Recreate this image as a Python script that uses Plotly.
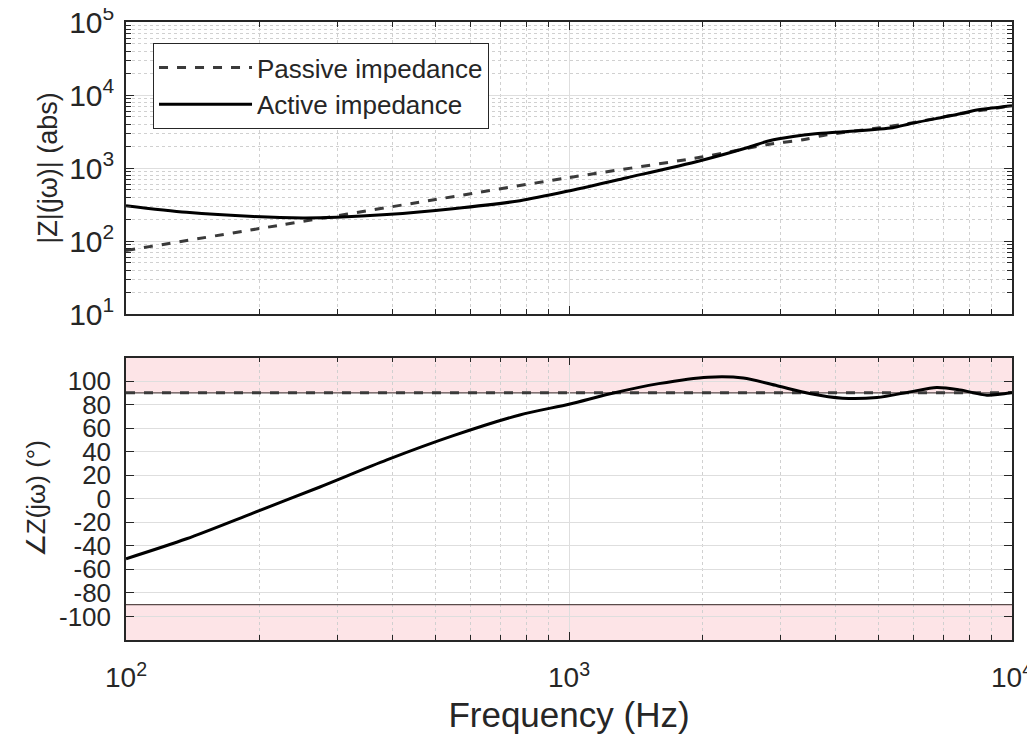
import plotly.graph_objects as go

# ---------------- data ----------------
freq_passive_mag = [100, 200, 500, 1000, 1977, 2880, 3374, 3820, 5035, 5794, 7634, 10000]
mag_passive = [74, 148, 370, 740, 1400, 2148, 2440, 2850, 3556, 4036, 5530, 7110]

freq_active_mag = [100, 137, 194, 251, 299, 388, 547, 775, 1005, 1352, 1977, 2523,
                   2833, 3206, 3600, 4153, 5380, 5886, 7634, 8170, 10000]
mag_active = [305, 247, 216, 207, 211, 230, 277, 357, 489, 736, 1260, 1897,
              2360, 2700, 2945, 3140, 3560, 4040, 5530, 6090, 7110]

freq_passive_phase = [100, 1000, 10000]
phase_passive = [90, 90, 90]

freq_active_phase = [100, 137, 194, 274, 388, 548, 774, 1005, 1232, 1594, 2061, 2474,
                     2951, 3492, 4145, 4958, 5889, 6763, 7640, 8780, 10000]
phase_active = [-51, -34, -12, 10, 33, 53.6, 71.2, 80.5, 89, 97.8, 103.3, 102.6,
                96, 89.4, 85.4, 86, 90.8, 94.6, 92.5, 88, 90.3]

phase_limit = 90
mag_ticks = [10, 100, 1000, 10000, 100000]
mag_ticktext = ["10<sup>1</sup>", "10<sup>2</sup>", "10<sup>3</sup>", "10<sup>4</sup>", "10<sup>5</sup>"]
freq_ticks = [100, 1000, 10000]
freq_ticktext = ["10<sup>2</sup>", "10<sup>3</sup>", "10<sup>4</sup>"]
phase_ticks = [100, 80, 60, 40, 20, 0, -20, -40, -60, -80, -100]
phase_ticktext = ["100", "80", "60", "40", "20", "0", "-20", "-40", "-60", "-80", "-100"]

x_minor = [200, 300, 400, 500, 600, 700, 800, 900,
           2000, 3000, 4000, 5000, 6000, 7000, 8000, 9000]
y_minor = [m * d for d in (10, 100, 1000, 10000) for m in range(2, 10)]

# ---------------- figure ----------------
FONT = "Liberation Sans, Arial, sans-serif"
TXT = "#262626"
AX = "#262626"
GRID = "#dedede"
MINOR_GRID = "#d0d0d0"

fig = go.Figure()

fig.add_trace(go.Scatter(x=freq_passive_mag, y=mag_passive, mode="lines",
                         name="Passive impedance",
                         line=dict(color="#3a3a3a", width=3, dash="dash", shape="spline", smoothing=0.8),
                         xaxis="x", yaxis="y"))
fig.add_trace(go.Scatter(x=freq_active_mag, y=mag_active, mode="lines",
                         name="Active impedance",
                         line=dict(color="black", width=3, shape="spline", smoothing=0.8),
                         xaxis="x", yaxis="y"))
fig.add_trace(go.Scatter(x=freq_passive_phase, y=phase_passive, mode="lines",
                         showlegend=False, line=dict(color="#3a3a3a", width=3, dash="dash"),
                         xaxis="x2", yaxis="y2"))
fig.add_trace(go.Scatter(x=freq_active_phase, y=phase_active, mode="lines",
                         showlegend=False, line=dict(color="black", width=3, shape="spline", smoothing=0.8),
                         xaxis="x2", yaxis="y2"))

# shaded forbidden phase regions
pink = "rgb(253,228,231)"
fig.add_shape(type="rect", xref="x2 domain", yref="y2", x0=0, x1=1, y0=phase_limit, y1=120,
              fillcolor=pink, line=dict(width=0), layer="below")
fig.add_shape(type="rect", xref="x2 domain", yref="y2", x0=0, x1=1, y0=-120, y1=-phase_limit,
              fillcolor=pink, line=dict(width=0), layer="below")
fig.add_shape(type="line", xref="x2 domain", yref="y2", x0=0, x1=1, y0=-phase_limit, y1=-phase_limit,
              line=dict(color="#5a4a4a", width=1.2))
fig.add_shape(type="line", xref="x2 domain", yref="y2", x0=0, x1=1, y0=phase_limit, y1=phase_limit,
              line=dict(color="#5a4a4a", width=1.2), layer="below")

common_x = dict(type="log", range=[2, 4], showline=True, linecolor=AX, linewidth=1.5, mirror="ticks",
                ticks="inside", ticklen=8, tickcolor=AX, tickwidth=1.2,
                tickvals=freq_ticks, showgrid=True, gridcolor=GRID, gridwidth=1,
                minor=dict(tickvals=x_minor, ticks="inside", ticklen=5, tickcolor=AX,
                           showgrid=True, gridcolor=MINOR_GRID, griddash="dot", gridwidth=1),
                zeroline=False, automargin=False, ticklabeloverflow="allow")

fig.update_layout(
    width=1035, height=744,
    margin=dict(l=118, r=31, t=14, b=112),
    paper_bgcolor="white", plot_bgcolor="white",
    font=dict(family=FONT, color=TXT),
    xaxis=dict(common_x, domain=[0, 1], anchor="y", showticklabels=False, matches="x2"),
    yaxis=dict(type="log", range=[1, 5], domain=[0.5275, 1], anchor="x",
               showline=True, linecolor=AX, linewidth=1.5, mirror="ticks",
               ticks="inside", ticklen=8, tickcolor=AX, tickwidth=1.2,
               tickvals=mag_ticks, ticktext=mag_ticktext, tickfont=dict(size=30, color=TXT),
               ticklabelstandoff=4, ticklabeloverflow="allow",
               showgrid=True, gridcolor=GRID,
               minor=dict(tickvals=y_minor, ticks="inside", ticklen=5, tickcolor=AX,
                          showgrid=True, gridcolor=MINOR_GRID, griddash="dot", gridwidth=1),
               title=dict(text="|Z|(jω)| (abs)", font=dict(size=27, color=TXT), standoff=4),
               zeroline=False, automargin=False),
    xaxis2=dict(common_x, domain=[0, 1], anchor="y2", ticktext=freq_ticktext,
                tickfont=dict(size=28, color=TXT), ticklabelstandoff=12,
                title=dict(text="Frequency (Hz)", font=dict(size=35, color=TXT), standoff=10)),
    yaxis2=dict(range=[-120, 120], domain=[0, 0.4571], anchor="x2",
                showline=True, linecolor=AX, linewidth=1.5, mirror="ticks",
                ticks="inside", ticklen=8, tickcolor=AX, tickwidth=1.2,
                tickvals=phase_ticks, ticktext=phase_ticktext,
                tickfont=dict(size=26, color=TXT), ticklabelstandoff=8, ticklabeloverflow="allow",
                showgrid=True, gridcolor=GRID,
                title=dict(text="∠Z(jω) (°)", font=dict(size=26, color=TXT), standoff=6),
                zeroline=False, automargin=False),
    legend=dict(x=0.0305, y=0.966, xanchor="left", yanchor="top",
                bgcolor="white", bordercolor="#262626", borderwidth=1,
                font=dict(size=26, color=TXT), itemwidth=93, tracegroupgap=0),
    showlegend=True,
)

fig.write_html("out.html")
